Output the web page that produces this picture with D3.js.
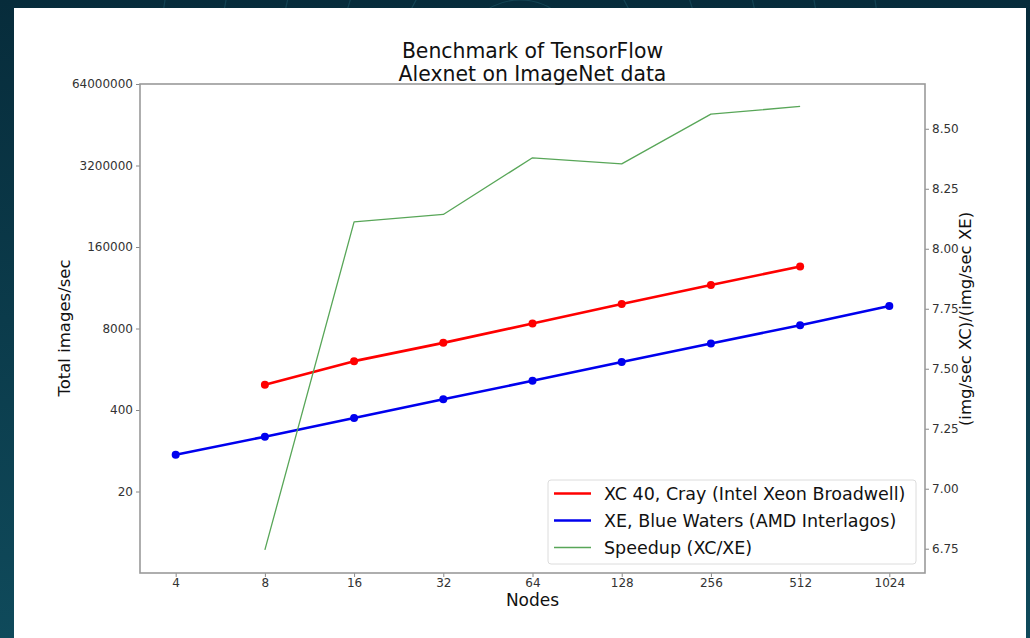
<!DOCTYPE html>
<html>
<head>
<meta charset="utf-8">
<script src="https://cdn.jsdelivr.net/npm/d3@7"></script>
<style>
  html, body { margin: 0; padding: 0; background: #0b3a4a; }
  svg { display: block; font-family: "DejaVu Sans", sans-serif; }
</style>
</head>
<body>
<div id="chart"></div>
<script>
// node counts on the x axis (log2)
var nodes = [4, 8, 16, 32, 64, 128, 256, 512, 1024];

// total images/sec
var xcNodes = [8, 16, 32, 64, 128, 256, 512];
var xcImages = [1010, 2410, 4720, 9610, 19700, 39700, 77900];

var xeNodes = [4, 8, 16, 32, 64, 128, 256, 512, 1024];
var xeImages = [77, 150, 298, 592, 1170, 2330, 4610, 9030, 18300];

// speedup (XC/XE), right axis
var speedNodes = [8, 16, 32, 64, 128, 256, 512];
var speedup = [6.745, 8.112, 8.143, 8.379, 8.354, 8.561, 8.593];

var leftTicks = [20, 400, 8000, 160000, 3200000, 64000000];
var rightTicks = [6.75, 7.00, 7.25, 7.50, 7.75, 8.00, 8.25, 8.50];

var legendNames = [
  "XC 40, Cray (Intel Xeon Broadwell)",
  "XE, Blue Waters (AMD Interlagos)",
  "Speedup (XC/XE)"
];

var W = 1030, H = 638;
var plot = {left: 140, right: 925, top: 84, bottom: 573};

var svg = d3.select("#chart").append("svg")
  .attr("width", W)
  .attr("height", H);

drawBackground();

// white slide card
svg.append("rect")
  .attr("x", 14).attr("y", 8)
  .attr("width", 1012).attr("height", 640)
  .attr("fill", "#fff");

// scales, matplotlib-like 5% margins on x
var x = d3.scaleLog().base(2)
  .domain([Math.pow(2, 1.6), Math.pow(2, 10.4)])
  .range([plot.left, plot.right]);

var yLeft = d3.scaleLog().base(20)
  .domain([1, 64000000])
  .range([plot.bottom, plot.top]);

var yRight = d3.scaleLinear()
  .domain([6.6488, 8.6866])
  .range([plot.bottom, plot.top]);

var g = svg.append("g");

// axes
var xAxis = d3.axisBottom(x).tickValues(nodes).tickFormat(d3.format("d")).tickSize(4).tickPadding(1);
var leftAxis = d3.axisLeft(yLeft).tickValues(leftTicks).tickFormat(d3.format("d")).tickSize(4).tickPadding(3);
var rightAxis = d3.axisRight(yRight).tickValues(rightTicks).tickFormat(d3.format(".2f")).tickSize(4).tickPadding(3);

g.append("g").attr("transform", "translate(0," + plot.bottom + ")").call(xAxis);
g.append("g").attr("transform", "translate(" + plot.left + ",0)").call(leftAxis);
g.append("g").attr("transform", "translate(" + plot.right + ",0)").call(rightAxis);

g.selectAll(".domain").remove();
g.selectAll(".tick line").attr("stroke", "#888").attr("stroke-width", 1);
g.selectAll(".tick text")
  .attr("fill", "#333")
  .style("font-size", "12px")
  .style("font-family", "DejaVu Sans, sans-serif");

// frame of the axes
g.append("rect")
  .attr("x", plot.left).attr("y", plot.top)
  .attr("width", plot.right - plot.left)
  .attr("height", plot.bottom - plot.top)
  .attr("fill", "none")
  .attr("stroke", "#9a9a9a")
  .attr("stroke-width", 1.6);

// series
function drawSeries(xs, ys, yScale, color, width, markers){
  var pts = xs.map(function(n, i){ return [x(n), yScale(ys[i])]; });
  g.append("path")
    .attr("d", d3.line()(pts))
    .attr("fill", "none")
    .attr("stroke", color)
    .attr("stroke-width", width)
    .attr("stroke-linejoin", "round");
  if (markers){
    g.selectAll(null).data(pts).enter().append("circle")
      .attr("cx", function(d){ return d[0]; })
      .attr("cy", function(d){ return d[1]; })
      .attr("r", 4)
      .attr("fill", color);
  }
}

drawSeries(xcNodes, xcImages, yLeft, "#f00", 2.6, true);
drawSeries(xeNodes, xeImages, yLeft, "#0000ee", 2.6, true);
drawSeries(speedNodes, speedup, yRight, "#58a658", 1.3, false);

// legend
var lg = g.append("g").attr("transform", "translate(548,480)");
lg.append("rect")
  .attr("width", 368).attr("height", 84)
  .attr("rx", 3)
  .attr("fill", "#fff")
  .attr("fill-opacity", 0.85)
  .attr("stroke", "#dcdcdc");

var legendStyles = [
  {color: "#f00", w: 2.6},
  {color: "#0000ee", w: 2.6},
  {color: "#58a658", w: 1.3}
];
legendNames.forEach(function(name, i){
  var cy = 13.5 + i * 27;
  lg.append("line")
    .attr("x1", 6).attr("x2", 43)
    .attr("y1", cy).attr("y2", cy)
    .attr("stroke", legendStyles[i].color)
    .attr("stroke-width", legendStyles[i].w);
  lg.append("text")
    .attr("x", 56).attr("y", cy + 6)
    .attr("fill", "#111")
    .style("font-size", "17.5px")
    .text(name);
});

// titles and labels
var title = svg.append("text")
  .attr("text-anchor", "middle")
  .attr("fill", "#111")
  .style("font-size", "20.4px");
title.append("tspan").attr("x", 532.5).attr("y", 58).text("Benchmark of TensorFlow");
title.append("tspan").attr("x", 532.5).attr("y", 81).text("Alexnet on ImageNet data");

svg.append("text")
  .attr("x", 532.5).attr("y", 606)
  .attr("text-anchor", "middle")
  .attr("fill", "#111")
  .style("font-size", "17px")
  .text("Nodes");

svg.append("text")
  .attr("transform", "translate(70,328) rotate(-90)")
  .attr("text-anchor", "middle")
  .attr("fill", "#111")
  .style("font-size", "16.5px")
  .text("Total images/sec");

svg.append("text")
  .attr("transform", "translate(971,319) rotate(-90)")
  .attr("text-anchor", "middle")
  .attr("fill", "#111")
  .style("font-size", "16.5px")
  .text("(img/sec XC)/(img/sec XE)");

// dark slide background with faint contour curves
function drawBackground(){
  var defs = svg.append("defs");
  var grad = defs.append("linearGradient")
    .attr("id", "bg").attr("x1", 0).attr("y1", 0).attr("x2", 0).attr("y2", 1);
  grad.append("stop").attr("offset", 0).attr("stop-color", "#072c3b");
  grad.append("stop").attr("offset", 1).attr("stop-color", "#0f4a5b");
  svg.append("rect").attr("width", W).attr("height", H).attr("fill", "url(#bg)");

  var rings = [60, 120, 180, 240, 300, 360];
  svg.selectAll(null).data(rings).enter().append("circle")
    .attr("cx", 520).attr("cy", 60)
    .attr("r", function(d){ return d; })
    .attr("fill", "none")
    .attr("stroke", "#2b6f80")
    .attr("stroke-opacity", 0.35)
    .attr("stroke-width", 1.2);
}
</script>
</body>
</html>
